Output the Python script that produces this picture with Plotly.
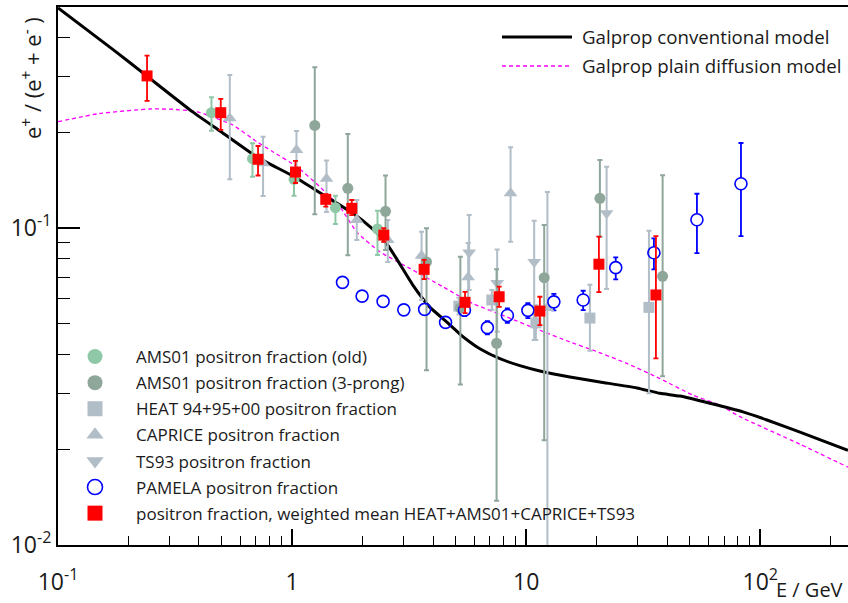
import plotly.graph_objects as go

# ---------------- data ----------------
# Galprop conventional model (solid black)
conv_E = [0.1, 0.1747, 0.2393, 0.3762, 0.4958, 0.7134, 1.027, 1.393, 1.799, 2.213, 2.490, 2.802, 3.280,
          3.877, 4.583, 5.208, 5.746, 6.341, 7.72, 9.40, 11.44, 15.38, 20.65, 29.72, 37.26, 45.38, 60.95,
          84.36, 106.8, 147.8, 237]
conv_f = [0.495, 0.3622, 0.302, 0.2325, 0.2016, 0.1670, 0.1449, 0.1258, 0.1119, 0.0993, 0.0910, 0.0798,
          0.0661, 0.0563, 0.0505, 0.0463, 0.0437, 0.0416, 0.0387, 0.0368, 0.0354, 0.0339, 0.0327, 0.0313,
          0.0301, 0.0295, 0.0280, 0.0263, 0.0248, 0.0227, 0.0199]

# Galprop plain diffusion model (dashed magenta)
pd_E = [0.1, 0.1507, 0.2465, 0.3092, 0.3915, 0.4449, 0.5579, 0.7064, 0.827, 1.047, 1.313, 1.599, 1.890,
        2.370, 3.184, 4.406, 5.918, 8.271, 11.44, 15.38, 19.28, 26.93, 37.26, 51.57, 67.27, 81.89, 147.8, 237]
pd_f = [0.2166, 0.2298, 0.2375, 0.2370, 0.2330, 0.2258, 0.2114, 0.1873, 0.1741, 0.1562, 0.1350, 0.1168,
        0.0971, 0.0842, 0.0746, 0.0653, 0.0578, 0.0524, 0.0476, 0.0437, 0.0412, 0.0374, 0.0335, 0.0297,
        0.0276, 0.0254, 0.0208, 0.0176]

# AMS01 positron fraction (old)
ao_E = [0.4525, 0.6773, 1.019, 1.532, 2.317]
ao_f = [0.2312, 0.1655, 0.1425, 0.1159, 0.0993]
ao_hi = [0.2586, 0.1851, 0.1524, 0.1265, 0.1134]
ao_lo = [0.2028, 0.1452, 0.1265, 0.1029, 0.0822]

# AMS01 positron fraction (3-prong)
a3_E = [1.250, 1.730, 2.507, 3.752, 5.234, 7.474, 11.94, 20.65, 38.27]
a3_f = [0.2107, 0.1335, 0.1129, 0.0782, 0.0559, 0.0433, 0.0697, 0.1241, 0.0704]
a3_hi = [0.3216, 0.1980, 0.1465, 0.0998, 0.0812, 0.0741, 0.1022, 0.1639, 0.1467]
a3_lo = [0.1105, 0.0820, 0.0852, 0.0356, 0.0321, 0.0138, 0.0214, 0.0939, 0.0341]

# HEAT 94+95+00
heat_E = [5.158, 7.135, 11.00, 18.72, 33.45]
heat_f = [0.0567, 0.0593, 0.0502, 0.0520, 0.0562]
heat_hi = [0.0603, 0.0638, 0.0571, 0.0662, 0.0980]
heat_lo = [0.0534, 0.0552, 0.0443, 0.0410, 0.0301]

# CAPRICE
cap_E = [0.5418, 0.7518, 1.044, 1.403, 1.890, 2.564, 3.573, 5.651, 8.577, 12.32]
cap_f = [0.2220, 0.1600, 0.1763, 0.1431, 0.1060, 0.0917, 0.0818, 0.0700, 0.1287, 0.0559]
cap_hi = [0.3041, 0.1942, 0.2024, 0.1633, 0.1226, 0.1060, 0.0973, 0.0897, 0.1798, 0.1300]
cap_lo = [0.1425, 0.1262, 0.1536, 0.1123, 0.0917, 0.0782, 0.0593, 0.0580, 0.0905, 0.008]

# TS93
ts_E = [5.707, 7.518, 10.82, 22.06]
ts_f = [0.0837, 0.0671, 0.0781, 0.1113]
ts_hi = [0.1099, 0.0856, 0.1054, 0.1562]
ts_lo = [0.0637, 0.0471, 0.0443, 0.0642]

# PAMELA
pam_E = [1.642, 1.991, 2.448, 3.001, 3.683, 4.524, 5.449, 6.827, 8.312, 10.17, 13.13, 17.52, 24.13,
         35.13, 53.64, 82.71]
pam_f = [0.0674, 0.0610, 0.0587, 0.0552, 0.0554, 0.0504, 0.0551, 0.0485, 0.0530, 0.0550, 0.0585, 0.0593,
         0.0750, 0.0836, 0.1062, 0.1380]
pam_hi = [0.0689, 0.0623, 0.0600, 0.0565, 0.0569, 0.0519, 0.0575, 0.0508, 0.0558, 0.0580, 0.0620, 0.0634,
          0.0808, 0.0928, 0.1283, 0.1855]
pam_lo = [0.0659, 0.0597, 0.0574, 0.0539, 0.0539, 0.0489, 0.0527, 0.0462, 0.0502, 0.0520, 0.0550, 0.0551,
          0.0689, 0.0741, 0.0834, 0.0943]

# weighted mean HEAT+AMS01+CAPRICE+TS93
wm_E = [0.2401, 0.4958, 0.7155, 1.034, 1.393, 1.799, 2.465, 3.665, 5.482, 7.666, 11.44, 20.45, 35.83]
wm_f = [0.302, 0.2312, 0.1648, 0.1502, 0.1232, 0.1154, 0.0950, 0.0741, 0.0583, 0.0607, 0.0547, 0.0769, 0.0615]
wm_hi = [0.350, 0.2554, 0.1815, 0.1628, 0.1280, 0.1226, 0.1000, 0.0793, 0.0629, 0.0653, 0.0607, 0.0940, 0.0943]
wm_lo = [0.2518, 0.2039, 0.1465, 0.1387, 0.1168, 0.1099, 0.0905, 0.0690, 0.0539, 0.0564, 0.0494, 0.0628, 0.0388]

x_tickvals = [0.1, 1, 10, 100]
x_ticktext = ["10<sup>-1</sup>", "1", "10", "10<sup>2</sup>"]
y_tickvals = [0.01, 0.1]
y_ticktext = ["10<sup>-2</sup>", "10<sup>-1</sup>"]

legend_lines = ["Galprop conventional model", "Galprop plain diffusion model"]

# ---------------- style ----------------
FONT = "Open Sans"
TXT = "#1a1a1a"
W, H = 848, 603
ML, MR, MT, MB = 58, 0, 7, 58
C_OLD = "#8ec8a6"
C_3P = "#8fa69b"
C_GRAY = "#b1bdc7"
C_BLUE = "#0000ff"
C_RED = "#ff0000"
DASH = "4px,3px"

fig = go.Figure()


def errs(f, hi, lo):
    return dict(type="data", symmetric=False,
                array=[h - v for h, v in zip(hi, f)],
                arrayminus=[v - l for v, l in zip(f, lo)])


# PAMELA error bars at the bottom, with white disks hiding the part inside the hollow circles
fig.add_trace(go.Scatter(x=pam_E, y=pam_f, mode="markers", showlegend=False, hoverinfo="skip",
                         marker=dict(color="white", symbol="circle", size=12, line=dict(width=0)),
                         error_y=dict(**errs(pam_f, pam_hi, pam_lo), color=C_BLUE, thickness=1.8, width=2.5)))

fig.add_trace(go.Scatter(x=pd_E, y=pd_f, mode="lines", showlegend=False,
                         line=dict(color="#ff00ff", width=1.3, dash=DASH, shape="spline", smoothing=0.5)))
fig.add_trace(go.Scatter(x=conv_E, y=conv_f, mode="lines", showlegend=False,
                         line=dict(color="black", width=3, shape="spline", smoothing=0.5)))


def add_points(E, f, hi, lo, color, symbol, size, name, rank, lw=0, fill=None, bar_w=2.0, cap=2.5,
               with_err=True):
    fig.add_trace(go.Scatter(
        x=E, y=f, mode="markers", showlegend=False,
        marker=dict(color=fill if fill else color, symbol=symbol, size=size,
                    line=dict(color=color, width=lw)),
        error_y=dict(**errs(f, hi, lo), color=color, thickness=bar_w, width=cap, visible=with_err)))
    # legend proxy
    fig.add_trace(go.Scatter(
        x=[None], y=[None], mode="markers", name=name, legend="legend2",
        legendgroup=name, legendrank=rank,
        marker=dict(color=fill if fill else color, symbol=symbol, size=15,
                    line=dict(color=color, width=lw))))


add_points(heat_E, heat_f, heat_hi, heat_lo, C_GRAY, "square", 11, "HEAT 94+95+00 positron fraction", 3)
add_points(cap_E, cap_f, cap_hi, cap_lo, C_GRAY, "triangle-up", 12, "CAPRICE positron fraction", 4)
add_points(ts_E, ts_f, ts_hi, ts_lo, C_GRAY, "triangle-down", 12, "TS93 positron fraction", 5)
add_points(ao_E, ao_f, ao_hi, ao_lo, C_OLD, "circle", 11, "AMS01 positron fraction (old)", 1)
add_points(a3_E, a3_f, a3_hi, a3_lo, C_3P, "circle", 11, "AMS01 positron fraction (3-prong)", 2)
add_points(pam_E, pam_f, pam_hi, pam_lo, C_BLUE, "circle-open", 12, "PAMELA positron fraction", 6,
           lw=1.6, with_err=False)
add_points(wm_E, wm_f, wm_hi, wm_lo, C_RED, "square", 11,
           "positron fraction, weighted mean HEAT+AMS01+CAPRICE+TS93", 7, bar_w=1.8, cap=2.5)

x_minor = [m * d for d in (0.1, 1, 10) for m in range(2, 10)] + [200]
y_minor = [m * 0.01 for m in range(2, 10)] + [0.2, 0.3, 0.4]


def px_x(p):
    return (p - ML) / (W - ML - MR)


def px_y(p):
    return (H - MB - p) / (H - MT - MB)


fig.update_layout(
    width=W, height=H,
    margin=dict(l=ML, r=MR, t=MT, b=MB),
    paper_bgcolor="white", plot_bgcolor="white",
    font=dict(family=FONT, color=TXT),
    xaxis=dict(type="log", range=[-1, 2.3748], showgrid=False, zeroline=False,
               showline=True, linecolor="black", linewidth=2, mirror=True,
               tickmode="array", tickvals=x_tickvals, ticktext=x_ticktext,
               ticks="inside", ticklen=16, tickwidth=1.6, tickcolor="black",
               ticklabelstandoff=15,
               tickfont=dict(size=23, family=FONT, color=TXT),
               minor=dict(tickmode="array", tickvals=x_minor, ticks="inside", ticklen=9,
                          tickwidth=1.2, tickcolor="black", showgrid=False)),
    yaxis=dict(type="log", range=[-2, -0.3026], showgrid=False, zeroline=False,
               showline=True, linecolor="black", linewidth=2, mirror=False,
               tickmode="array", tickvals=y_tickvals, ticktext=y_ticktext,
               ticks="inside", ticklen=22, tickwidth=1.6, tickcolor="black",
               tickfont=dict(size=23, family=FONT, color=TXT),
               minor=dict(tickmode="array", tickvals=y_minor, ticks="inside", ticklen=12,
                          tickwidth=1.2, tickcolor="black", showgrid=False)),
    legend2=dict(x=px_x(54), y=px_y(339), xanchor="left", yanchor="top",
                 bgcolor="rgba(0,0,0,0)", borderwidth=0,
                 font=dict(size=17, family=FONT, color=TXT),
                 traceorder="grouped", tracegroupgap=1, itemwidth=72),
    showlegend=True,
)

# manual legend for the model curves (top right)
for i, (txt, col, dash, lw) in enumerate(zip(legend_lines, ["black", "#ff00ff"], ["solid", DASH], [3, 1.3])):
    yy = px_y(37 + 29 * i)
    fig.add_shape(type="line", xref="paper", yref="paper", x0=px_x(502), x1=px_x(572), y0=yy, y1=yy,
                  line=dict(color=col, width=lw, dash=dash))
    fig.add_annotation(xref="paper", yref="paper", x=px_x(580), y=yy, text=txt, showarrow=False,
                       xanchor="left", yanchor="middle", font=dict(size=18.7, family=FONT, color=TXT))

# axis titles
fig.add_annotation(xref="paper", yref="paper", x=px_x(845), y=px_y(589), text="E / GeV", showarrow=False,
                   xanchor="right", yanchor="middle", font=dict(size=20, family=FONT, color=TXT))
fig.add_annotation(xref="paper", yref="paper", x=px_x(31), y=px_y(78),
                   text="e<sup>+</sup> / (e<sup>+</sup> + e<sup>-</sup> )", textangle=-90, showarrow=False,
                   xanchor="center", yanchor="middle", font=dict(size=22, family=FONT, color=TXT))

fig.write_html("out.html")
